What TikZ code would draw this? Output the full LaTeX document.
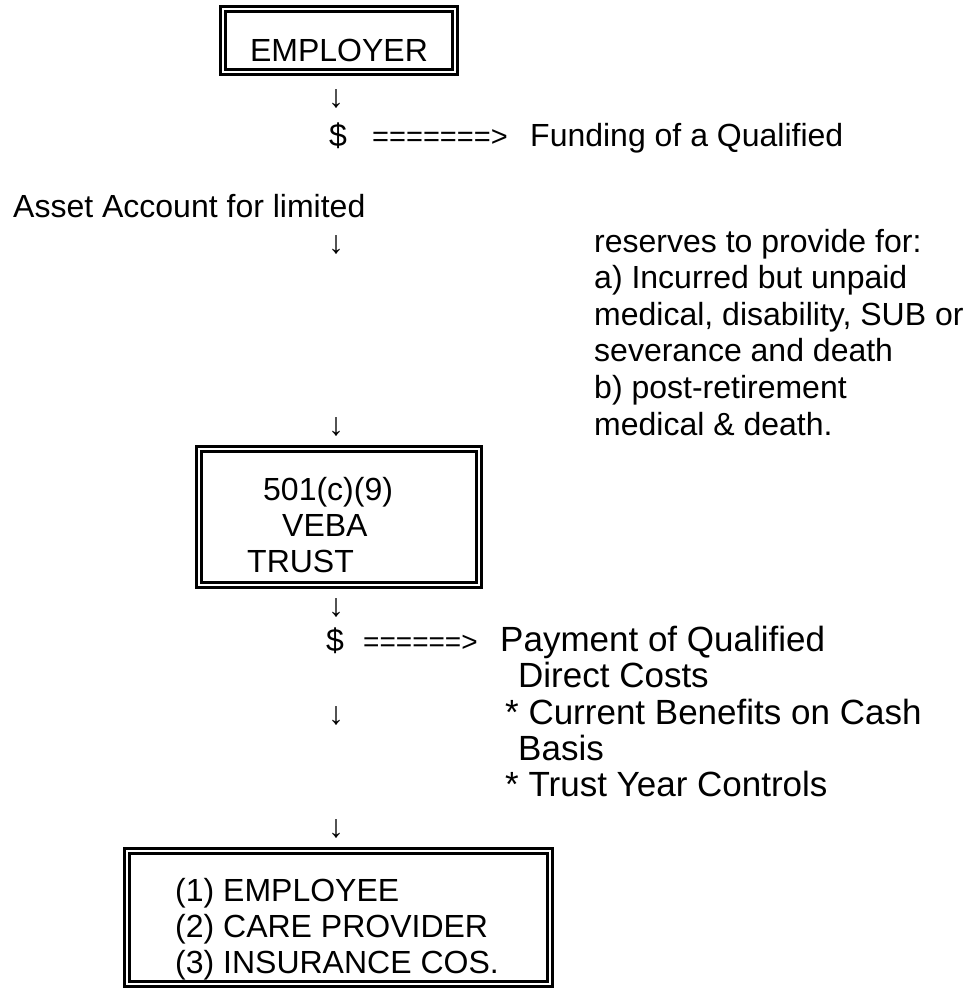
\documentclass[tikz,border=0pt]{standalone}
\usepackage{fontspec}
\setmainfont{Liberation Sans}

\begin{document}
\begin{tikzpicture}[x=1pt,y=-1pt,
  txt/.style={anchor=base west,inner sep=0pt,font=\fontsize{32}{36.8}\selectfont},
  ctxt/.style={txt,anchor=base},
  btxt/.style={txt,font=\fontsize{35}{36.8}\selectfont},
  dbox/.style={draw,line width=3pt,double,double distance=2pt,inner sep=0pt}]
\useasboundingbox (0,0) rectangle (973,990);

% boxes
\node[dbox,minimum width=232pt,minimum height=63pt](employer) at (339,40.5){};
\node[dbox,minimum width=280pt,minimum height=136pt](veba) at (339,517){};
\node[dbox,minimum width=423pt,minimum height=133pt](payees) at (338.5,917.5){};

\node[ctxt](employerT) at (339,62){EMPLOYER};
\node[txt](vebaA) at (263,500){501(c)(9)};
\node[txt](vebaB) at (282,536){VEBA};
\node[txt](vebaC) at (247,572){TRUST};
\node[txt](payeeA) at (175,901){(1) EMPLOYEE};
\node[txt](payeeB) at (175,937){(2) CARE PROVIDER};
\node[txt](payeeC) at (175,973){(3) INSURANCE COS.};

% down arrows
\node[ctxt](downA) at (336,107){↓};
\node[ctxt](downB) at (336,253){↓};
\node[ctxt](downC) at (336,435){↓};
\node[ctxt](downD) at (336,616){↓};
\node[ctxt](downE) at (336,724){↓};
\node[ctxt](downF) at (336,837){↓};

% funding
\node[ctxt](dollarA) at (338,146){\$};
\node[txt,font=\fontsize{29}{36.8}\selectfont](flowA) at (372,146){=======>};
\node[txt](fundA) at (530,146){Funding of a Qualified};
\node[txt](asset) at (13,217){Asset Account for limited};
\node[txt](resA) at (594,252){reserves to provide for:};
\node[txt](resB) at (594,288){a) Incurred but unpaid};
\node[txt](resC) at (594,325){medical, disability, SUB or};
\node[txt](resD) at (594,361){severance and death};
\node[txt](resE) at (594,398){b) post-retirement};
\node[txt](resF) at (594,435){medical \& death.};

% payment
\node[ctxt](dollarB) at (335,651){\$};
\node[txt,font=\fontsize{28}{36.8}\selectfont](flowB) at (363,651){======>};
\node[btxt](payA) at (500,651){Payment of Qualified};
\node[btxt](payB) at (518,687){Direct Costs};
\node[btxt](payC) at (505,724){* Current Benefits on Cash};
\node[btxt](payD) at (518,760){Basis};
\node[btxt](payE) at (505,796){* Trust Year Controls};
\end{tikzpicture}
\end{document}
